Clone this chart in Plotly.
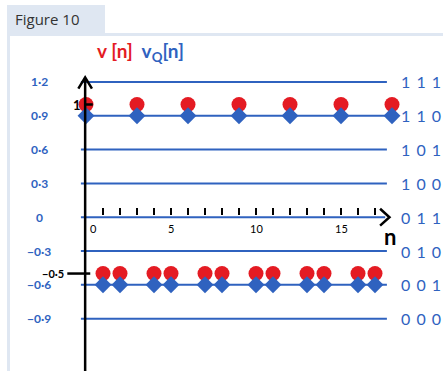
import plotly.graph_objects as go

# Sample index and the two sequences
n = [0, 1, 2, 3, 4, 5, 6, 7, 8, 9, 10, 11, 12, 13, 14, 15, 16, 17, 18]
v = [1, -0.5, -0.5, 1, -0.5, -0.5, 1, -0.5, -0.5, 1, -0.5, -0.5, 1, -0.5, -0.5, 1, -0.5, -0.5, 1]
vq = [0.9, -0.6, -0.6, 0.9, -0.6, -0.6, 0.9, -0.6, -0.6, 0.9, -0.6, -0.6, 0.9, -0.6, -0.6, 0.9, -0.6, -0.6, 0.9]

# Quantizer levels with their codes
levels = [1.2, 0.9, 0.6, 0.3, 0, -0.3, -0.6, -0.9]
level_labels = ["1·2", "0·9", "0·6", "0·3", "0", "−0·3", "−0·6", "−0·9"]
codes = ["1 1 1", "1 1 0", "1 0 1", "1 0 0", "0 1 1", "0 1 0", "0 0 1", "0 0 0"]

n_ticks = list(range(1, 18))
n_tick_labels = ["0", "5", "10", "15"]
n_tick_pos = [0.45, 5, 10, 15]

BLUE = "#2f62bf"
RED = "#e41b23"
FRAME = "#dfe7f2"
W, H = 443, 371

# data <-> pixel mapping for the axes
px_per_n = 17.0
x0_px = 86.0
px_per_v = 112.7
y0_px = 217.2
x_range = [-x0_px / px_per_n, (W - x0_px) / px_per_n]
y_range = [(y0_px - H) / px_per_v, y0_px / px_per_v]

fig = go.Figure()

# quantization level lines
for lv in levels:
    x_end = 17.7 if lv != 0 else 17.6
    fig.add_trace(go.Scatter(x=[-0.3, x_end], y=[lv, lv], mode="lines",
                             line=dict(color=BLUE, width=2), hoverinfo="skip",
                             showlegend=False))

# ticks on the n axis
fig.add_trace(go.Scatter(x=n_ticks, y=[0.05] * len(n_ticks), mode="markers",
                         marker=dict(symbol="line-ns", size=5,
                                     line=dict(color="black", width=2)),
                         hoverinfo="skip", showlegend=False))

# original samples (red) and quantized samples (blue)
fig.add_trace(go.Scatter(x=n, y=v, mode="markers",
                         marker=dict(symbol="circle", size=15, color=RED),
                         showlegend=False))
fig.add_trace(go.Scatter(x=n, y=vq, mode="markers",
                         marker=dict(symbol="diamond", size=13, color=BLUE),
                         showlegend=False))

shapes = []
# vertical axis with arrow head
shapes.append(dict(type="line", xref="x", yref="y", x0=-0.05, x1=-0.05,
                   y0=y_range[0], y1=1.22, line=dict(color="black", width=2.5)))
shapes.append(dict(type="path", xref="x", yref="y",
                   path="M -0.45 1.14 L -0.05 1.24 L 0.35 1.14",
                   line=dict(color="black", width=2.5)))
# arrow head of the n axis
shapes.append(dict(type="path", xref="x", yref="y",
                   path="M 17.3 0.075 L 17.85 0.0 L 17.3 -0.075",
                   line=dict(color="black", width=2.5)))
# small marks for 1 and -0.5 on the vertical axis
shapes.append(dict(type="line", xref="x", yref="y", x0=-0.05, x1=0.4,
                   y0=1.0, y1=1.0, line=dict(color="black", width=2.5)))
shapes.append(dict(type="line", xref="x", yref="y", x0=-1.1, x1=0.25,
                   y0=-0.5, y1=-0.5, line=dict(color="black", width=2.5)))

# window frame with tab
shapes.append(dict(type="rect", xref="paper", yref="paper",
                   x0=7 / W, x1=105 / W, y0=1 - 34 / H, y1=1 - 5 / H,
                   fillcolor=FRAME, line=dict(width=0), layer="below"))
shapes.append(dict(type="rect", xref="paper", yref="paper",
                   x0=7 / W, x1=1, y0=1 - 36 / H, y1=1 - 33 / H,
                   fillcolor=FRAME, line=dict(width=0), layer="below"))
shapes.append(dict(type="rect", xref="paper", yref="paper",
                   x0=7 / W, x1=10 / W, y0=0, y1=1 - 33 / H,
                   fillcolor=FRAME, line=dict(width=0), layer="below"))

annotations = []
# level values on the left, codes on the right
for lv, lab, code in zip(levels, level_labels, codes):
    annotations.append(dict(x=-2.75, y=lv, xref="x", yref="y", text="<b>" + lab + "</b>",
                            showarrow=False, xanchor="center", yanchor="middle",
                            font=dict(color=BLUE, size=12, family="Lato")))
    annotations.append(dict(x=18.42, y=lv, xref="x", yref="y",
                            text=code.replace(" ", "\u00a0\u2009"),
                            showarrow=False, xanchor="left", yanchor="middle",
                            font=dict(color=BLUE, size=16, family="Lato")))

# n axis tick labels
for pos, lab in zip(n_tick_pos, n_tick_labels):
    annotations.append(dict(x=pos, y=-0.1, xref="x", yref="y", text=lab,
                            showarrow=False, xanchor="center", yanchor="middle",
                            font=dict(color="black", size=11, family="Lato")))
annotations.append(dict(x=17.9, y=-0.17, xref="x", yref="y", text="<b>n</b>",
                        showarrow=False, xanchor="center", yanchor="middle",
                        font=dict(color="black", size=22, family="Lato")))

# values marked on the vertical axis
annotations.append(dict(x=-0.55, y=1.0, xref="x", yref="y", text="<b>1</b>",
                        showarrow=False, xanchor="center", yanchor="middle",
                        font=dict(color="black", size=13, family="Lato")))
annotations.append(dict(x=-1.2, y=-0.5, xref="x", yref="y", text="<b>−0·5</b>",
                        showarrow=False, xanchor="right", yanchor="middle",
                        font=dict(color="black", size=11, family="Lato")))

# series names
annotations.append(dict(x=0.5, y=1.47, xref="x", yref="y",
                        text="<b><span style='color:%s'>v [n]</span>  v<sub>Q</sub>[n]</b>" % RED,
                        showarrow=False, xanchor="left", yanchor="middle",
                        font=dict(color=BLUE, size=19, family="Lato")))

# tab caption
annotations.append(dict(x=13 / W, y=1 - 19 / H, xref="paper", yref="paper",
                        text="Figure 10", showarrow=False, xanchor="left",
                        yanchor="middle",
                        font=dict(color="#333333", size=15, family="Open Sans")))

fig.update_layout(
    width=W, height=H,
    margin=dict(l=0, r=0, t=0, b=0),
    paper_bgcolor="white", plot_bgcolor="white",
    xaxis=dict(range=x_range, visible=False, fixedrange=True),
    yaxis=dict(range=y_range, visible=False, fixedrange=True),
    shapes=shapes, annotations=annotations,
)

fig.write_html("out.html")
